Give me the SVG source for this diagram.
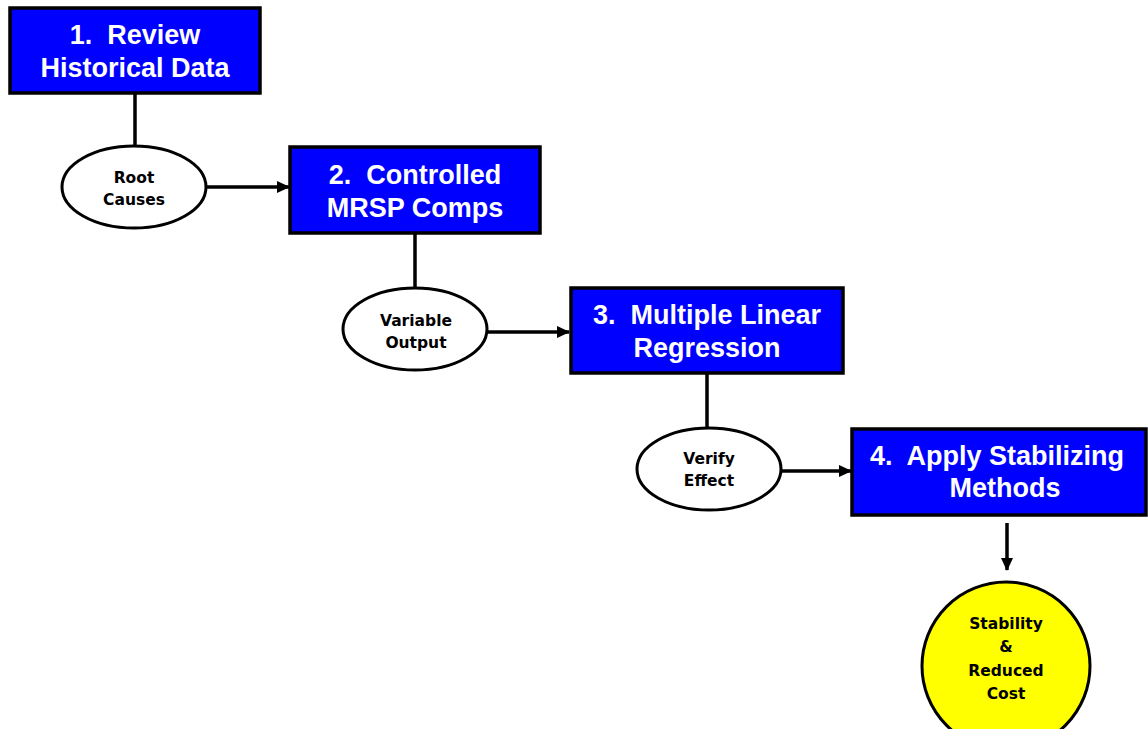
<svg xmlns="http://www.w3.org/2000/svg" width="1148" height="729" viewBox="0 0 1148 729">
<style>
.box{fill:#0000FF;stroke:#000;stroke-width:3.5}
.bt{font-family:"Liberation Sans",Arial,sans-serif;font-weight:bold;font-size:27px;fill:#fff;text-anchor:middle;white-space:pre}
.ell{fill:#fff;stroke:#000;stroke-width:3}
.et{font-family:"DejaVu Sans",sans-serif;font-weight:bold;font-size:15.5px;fill:#000;text-anchor:middle}
.ln{stroke:#000;stroke-width:3.5;fill:none}
</style>
<defs>
<marker id="ah" markerWidth="13" markerHeight="12" refX="12" refY="6" orient="auto" markerUnits="userSpaceOnUse">
<path d="M0,0 L13,6 L0,12 Z" fill="#000"/>
</marker>
</defs>
<rect width="1148" height="729" fill="#fff"/>
<g id="connectors">
<line class="ln" x1="135" y1="93" x2="135" y2="146"/>
<line class="ln" x1="206" y1="187" x2="289" y2="187" marker-end="url(#ah)"/>
<line class="ln" x1="415" y1="233" x2="415" y2="287"/>
<line class="ln" x1="487" y1="332" x2="569" y2="332" marker-end="url(#ah)"/>
<line class="ln" x1="707" y1="373" x2="707" y2="427"/>
<line class="ln" x1="780" y1="471" x2="851" y2="471" marker-end="url(#ah)"/>
<line class="ln" x1="1007" y1="523" x2="1007" y2="570" marker-end="url(#ah)"/>
</g>
<g id="n1">
<rect class="box" x="10" y="8" width="250" height="85"/>
<text class="bt" x="135" y="44" xml:space="preserve">1.  Review</text>
<text class="bt" x="135" y="77">Historical Data</text>
</g>
<g id="e1">
<ellipse class="ell" cx="134" cy="187" rx="72" ry="41"/>
<text class="et" x="134" y="183">Root</text>
<text class="et" x="134" y="205">Causes</text>
</g>
<g id="n2">
<rect class="box" x="290" y="147" width="250" height="86"/>
<text class="bt" x="415" y="184" xml:space="preserve">2.  Controlled</text>
<text class="bt" x="415" y="217">MRSP Comps</text>
</g>
<g id="e2">
<ellipse class="ell" cx="415" cy="329" rx="72" ry="41"/>
<text class="et" x="416" y="326">Variable</text>
<text class="et" x="416" y="348">Output</text>
</g>
<g id="n3">
<rect class="box" x="571" y="288" width="272" height="85"/>
<text class="bt" x="707" y="324" xml:space="preserve">3.  Multiple Linear</text>
<text class="bt" x="707" y="357">Regression</text>
</g>
<g id="e3">
<ellipse class="ell" cx="709" cy="469" rx="72" ry="41"/>
<text class="et" x="709" y="464">Verify</text>
<text class="et" x="709" y="486">Effect</text>
</g>
<g id="n4">
<rect class="box" x="852" y="429" width="294" height="86"/>
<text class="bt" x="997" y="465" xml:space="preserve">4.  Apply Stabilizing</text>
<text class="bt" x="1005" y="497">Methods</text>
</g>
<g id="result">
<ellipse cx="1006" cy="666" rx="84" ry="84" fill="#FFFF00" stroke="#000" stroke-width="3"/>
<text class="et" x="1006" y="629">Stability</text>
<text class="et" x="1006" y="652">&amp;</text>
<text class="et" x="1006" y="676">Reduced</text>
<text class="et" x="1006" y="699">Cost</text>
</g>
</svg>
